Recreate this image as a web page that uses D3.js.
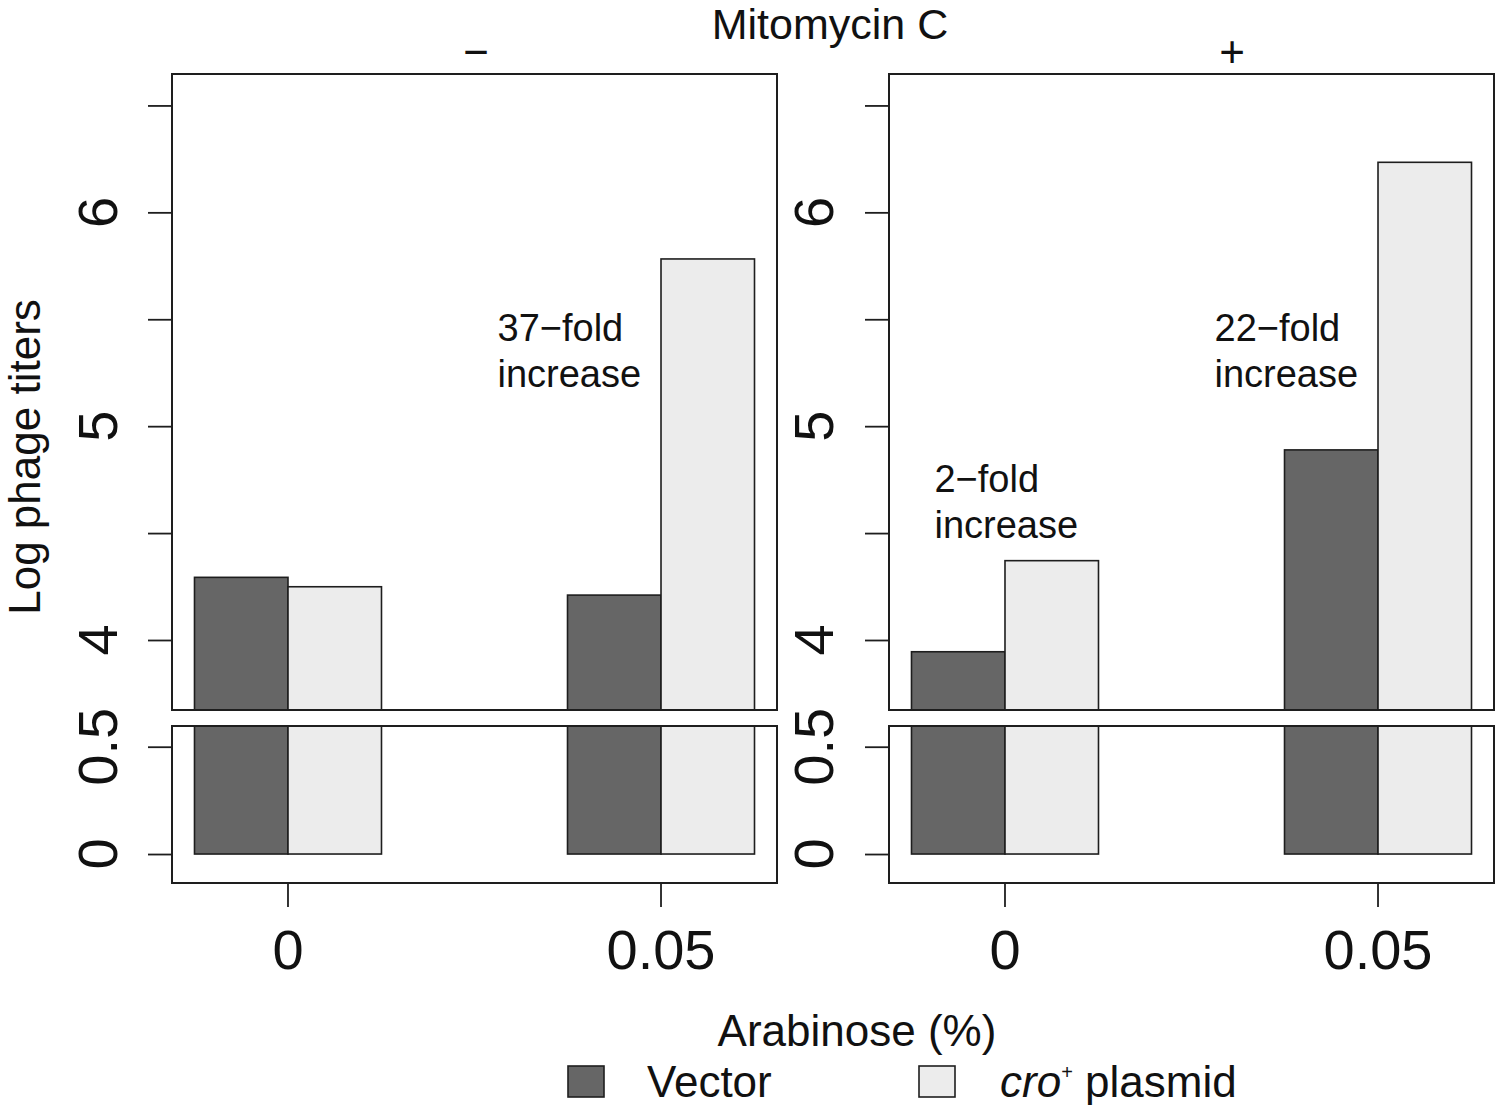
<!DOCTYPE html>
<html>
<head>
<meta charset="utf-8">
<script src="https://cdn.jsdelivr.net/npm/d3@7"></script>
<style>
  html, body { margin: 0; padding: 0; background: #fff; }
  svg { display: block; font-family: "Liberation Sans", Arial, Helvetica, sans-serif; }
</style>
</head>
<body>
<svg id="chart" width="1500" height="1105"></svg>
<script>
// ---- data ----
const categories = ["0", "0.05"];
const seriesNames = ["Vector", "cro+ plasmid"];
const vectorMinus = [4.293, 4.210];
const croMinus = [4.249, 5.782];
const vectorPlus = [3.945, 4.889];
const croPlus = [4.371, 6.234];
const upperTicks = [4, 4.5, 5, 5.5, 6, 6.5];
const upperLabels = [4, 5, 6];
const lowerTicks = [0, 0.5];
const lowerLabels = [0, 0.5];
const panelLabels = ["\u2212", "+"];
const annotationsMinus = [{cat: "0.05", lines: ["37\u2212fold", "increase"], v: 5.40, dx: -70}];
const annotationsPlus = [
  {cat: "0", lines: ["2\u2212fold", "increase"], v: 4.694, dx: 23},
  {cat: "0.05", lines: ["22\u2212fold", "increase"], v: 5.40, dx: -70}
];

const fills = ["#666666", "#ececec"];
const stroke = "#1e1e1e";
const textColor = "#111";

const svg = d3.select("#chart");

const upperTop = 74, upperBottom = 710, lowerTop = 726, lowerBottom = 883;
const yUpper = d3.scaleLinear().domain([3.6726, 6.647]).range([upperBottom, upperTop]);
const yLower = d3.scaleLinear().domain([-0.135, 0.5965]).range([lowerBottom, lowerTop]);

const panels = [
  {x0: 172, x1: 777, vec: vectorMinus, cro: croMinus, label: panelLabels[0], labelX: 476, tickLabelX: 117, ann: annotationsMinus},
  {x0: 889, x1: 1494, vec: vectorPlus, cro: croPlus, label: panelLabels[1], labelX: 1232, tickLabelX: 833, ann: annotationsPlus}
];

panels.forEach((p, pi) => {
  const xg = d3.scaleBand().domain(categories).range([p.x0, p.x1])
    .paddingInner(0.4987).paddingOuter(0.0603);
  const xs = d3.scaleBand().domain(seriesNames).range([0, xg.bandwidth()]);
  const rows = [];
  categories.forEach((c, i) => {
    rows.push({cat: c, s: seriesNames[0], v: p.vec[i], fill: fills[0]});
    rows.push({cat: c, s: seriesNames[1], v: p.cro[i], fill: fills[1]});
  });

  // clips
  const cu = "clipU" + pi, cl = "clipL" + pi;
  svg.append("clipPath").attr("id", cu).append("rect")
    .attr("x", p.x0).attr("y", upperTop).attr("width", p.x1 - p.x0).attr("height", upperBottom - upperTop);
  svg.append("clipPath").attr("id", cl).append("rect")
    .attr("x", p.x0).attr("y", lowerTop).attr("width", p.x1 - p.x0).attr("height", lowerBottom - lowerTop);

  // upper bars
  svg.append("g").attr("clip-path", `url(#${cu})`)
    .selectAll("rect").data(rows).join("rect")
    .attr("x", d => xg(d.cat) + xs(d.s))
    .attr("width", xs.bandwidth())
    .attr("y", d => yUpper(d.v))
    .attr("height", d => yUpper.range()[0] + 5 - yUpper(d.v))
    .attr("fill", d => d.fill).attr("stroke", stroke).attr("stroke-width", 1.6);

  // lower bars
  svg.append("g").attr("clip-path", `url(#${cl})`)
    .selectAll("rect").data(rows).join("rect")
    .attr("x", d => xg(d.cat) + xs(d.s))
    .attr("width", xs.bandwidth())
    .attr("y", d => Math.max(yLower(d.v), lowerTop - 5))
    .attr("height", d => yLower(0) - Math.max(yLower(d.v), lowerTop - 5))
    .attr("fill", d => d.fill).attr("stroke", stroke).attr("stroke-width", 1.6);

  // boxes
  svg.append("rect").attr("x", p.x0).attr("y", upperTop).attr("width", p.x1 - p.x0)
    .attr("height", upperBottom - upperTop).attr("fill", "none").attr("stroke", stroke).attr("stroke-width", 2);
  svg.append("rect").attr("x", p.x0).attr("y", lowerTop).attr("width", p.x1 - p.x0)
    .attr("height", lowerBottom - lowerTop).attr("fill", "none").attr("stroke", stroke).attr("stroke-width", 2);

  // y axes (ticks)
  const ayU = svg.append("g").attr("transform", `translate(${p.x0},0)`)
    .call(d3.axisLeft(yUpper).tickValues(upperTicks).tickSize(24).tickFormat(""));
  const ayL = svg.append("g").attr("transform", `translate(${p.x0},0)`)
    .call(d3.axisLeft(yLower).tickValues(lowerTicks).tickSize(24).tickFormat(""));
  [ayU, ayL].forEach(a => {
    a.select(".domain").remove();
    a.selectAll(".tick line").attr("stroke", stroke).attr("stroke-width", 1.8);
  });

  // rotated tick labels
  svg.append("g").selectAll("text").data(upperLabels).join("text")
    .attr("transform", d => `translate(${p.tickLabelX},${yUpper(d)}) rotate(-90)`)
    .attr("text-anchor", "middle").attr("font-size", 56).attr("fill", textColor)
    .text(d => d);
  svg.append("g").selectAll("text").data(lowerLabels).join("text")
    .attr("transform", d => `translate(${p.tickLabelX},${yLower(d)}) rotate(-90)`)
    .attr("text-anchor", "middle").attr("font-size", 56).attr("fill", textColor)
    .text(d => d);

  // x axis
  const ax = svg.append("g").attr("transform", `translate(0,${lowerBottom})`)
    .call(d3.axisBottom(xg).tickSize(24).tickPadding(22));
  ax.select(".domain").remove();
  ax.selectAll(".tick line").attr("stroke", stroke).attr("stroke-width", 1.8);
  ax.selectAll(".tick text").attr("font-size", 56).attr("fill", textColor)
    .attr("font-family", "Liberation Sans, Arial, sans-serif");

  // panel label
  svg.append("text").attr("x", p.labelX).attr("y", 67).attr("text-anchor", "middle")
    .attr("font-size", 44).attr("fill", textColor).text(p.label);

  // annotations
  p.ann.forEach(a => {
    const t = svg.append("text").attr("font-size", 38).attr("fill", textColor)
      .attr("x", xg(a.cat) + a.dx).attr("y", yUpper(a.v));
    a.lines.forEach((ln, i) => {
      t.append("tspan").attr("x", xg(a.cat) + a.dx).attr("dy", i === 0 ? 0 : 46).text(ln);
    });
  });
});

// titles
svg.append("text").attr("x", 830).attr("y", 39).attr("text-anchor", "middle")
  .attr("font-size", 43).attr("fill", textColor).text("Mitomycin C");
svg.append("text").attr("transform", "translate(40,457) rotate(-90)").attr("text-anchor", "middle")
  .attr("font-size", 44).attr("fill", textColor).text("Log phage titers");
svg.append("text").attr("x", 857).attr("y", 1046).attr("text-anchor", "middle")
  .attr("font-size", 44).attr("fill", textColor).text("Arabinose (%)");

// legend
const legend = svg.append("g");
const legendX = [568, 919];
seriesNames.forEach((s, i) => {
  legend.append("rect").attr("x", legendX[i]).attr("y", 1066).attr("width", 36).attr("height", 31)
    .attr("fill", fills[i]).attr("stroke", stroke).attr("stroke-width", 1.6);
});
legend.append("text").attr("x", 647).attr("y", 1097).attr("font-size", 44).attr("fill", textColor).text(seriesNames[0]);
const lt = legend.append("text").attr("x", 1000).attr("y", 1097).attr("font-size", 44).attr("fill", textColor);
lt.append("tspan").attr("font-style", "italic").text("cro");
lt.append("tspan").attr("font-size", 20).attr("dy", -18).text("+");
lt.append("tspan").attr("dy", 18).text(" plasmid");
</script>
</body>
</html>
